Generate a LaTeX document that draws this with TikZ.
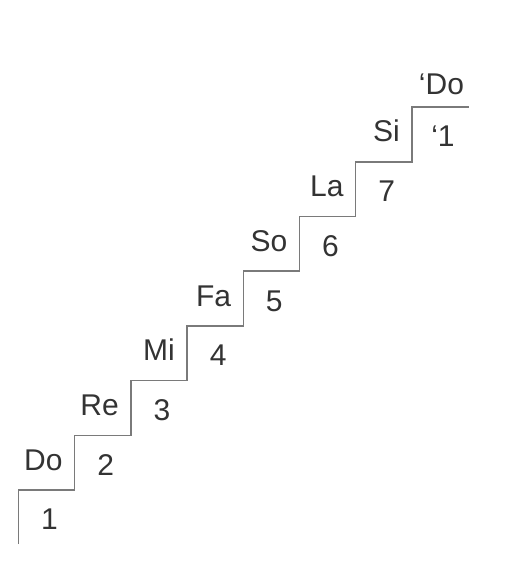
\documentclass[tikz,border=0pt]{standalone}
\usepackage{fontspec}
\setmainfont{Liberation Sans}
\definecolor{stairgray}{HTML}{7A7A7A}
\definecolor{textgray}{HTML}{333333}
\begin{document}
\begin{tikzpicture}[
  x=1pt,y=-1pt,
  label/.style={inner sep=0pt,text height=21pt,text depth=0pt,text=textgray,font=\fontsize{30}{31}\selectfont},
  note/.style={label,anchor=east},
  degree/.style={label,anchor=center},
  stair/.style={draw=stairgray,line width=1.5pt,line join=miter}
]
\useasboundingbox (0,0) rectangle (512,582);
% corners of the staircase
\coordinate (s0) at (18.5,544);
\coordinate (r0) at (18.5,490);
\coordinate (r1) at (74.7,435.3);
\coordinate (r2) at (130.9,380.6);
\coordinate (r3) at (187.1,325.9);
\coordinate (r4) at (243.3,271.2);
\coordinate (r5) at (299.5,216.5);
\coordinate (r6) at (355.7,161.8);
\coordinate (r7) at (411.9,107.1);
\coordinate (top) at (468.5,107.1);
\draw[stair] (s0) -- (r0) -| (r1) -| (r2) -| (r3) -| (r4) -| (r5) -| (r6) -| (r7) -- (top);
% note names
\node[note] (do) at (62.7,459.6) {Do};
\node[note] (re) at (118.9,404.9) {Re};
\node[note] (mi) at (175.1,350.2) {Mi};
\node[note] (fa) at (231.3,295.5) {Fa};
\node[note] (so) at (287.5,240.8) {So};
\node[note] (la) at (343.7,186.1) {La};
\node[note] (si) at (399.9,131.4) {Si};
\node[degree] (hdo) at (441.5,84) {‘Do};
% scale degrees
\node[degree] (one) at (49.5,519) {1};
\node[degree] (two) at (105.7,464.6) {2};
\node[degree] (three) at (161.9,409.9) {3};
\node[degree] (four) at (218.1,355.2) {4};
\node[degree] (five) at (274.3,300.5) {5};
\node[degree] (six) at (330.5,245.8) {6};
\node[degree] (seven) at (386.7,191.1) {7};
\node[degree] (hone) at (443,136.4) {‘1};
\end{tikzpicture}
\end{document}
